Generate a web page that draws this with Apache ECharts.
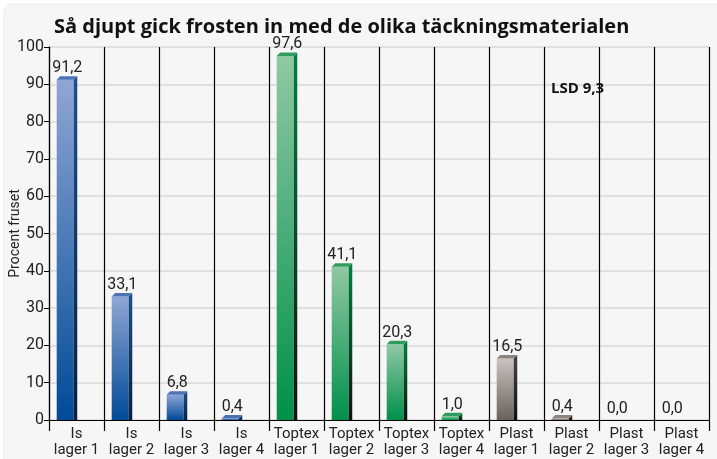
<!DOCTYPE html>
<html>
<head>
<meta charset="utf-8">
<script src="https://cdn.jsdelivr.net/npm/echarts@6/dist/echarts.min.js"></script>
<style>
  html, body { margin: 0; padding: 0; background: #fff; }
  #chart { width: 717px; height: 459px; }
</style>
</head>
<body>
<div id="chart"></div>
<script>
// kategorier och värden (procent fruset)
const categories = [
  'Is\nlager 1', 'Is\nlager 2', 'Is\nlager 3', 'Is\nlager 4',
  'Toptex\nlager 1', 'Toptex\nlager 2', 'Toptex\nlager 3', 'Toptex\nlager 4',
  'Plast\nlager 1', 'Plast\nlager 2', 'Plast\nlager 3', 'Plast\nlager 4'
]
const isValues = [91.2, 33.1, 6.8, 0.4]
const toptexValues = [97.6, 41.1, 20.3, 1.0]
const plastValues = [16.5, 0.4, 0.0, 0.0]
const groupOf = ['is', 'is', 'is', 'is', 'toptex', 'toptex', 'toptex', 'toptex', 'plast', 'plast', 'plast', 'plast']

const narrow = "Roboto, 'Liberation Sans Narrow', sans-serif"

// färger för framsida, sida och topp
const palette = {
  is: { front: ['#8fa6d4', '#004a98'], side: ['#1d4f8c', '#0a1f3f'], top: '#4a72b4' },
  toptex: { front: ['#90c8a4', '#00904a'], side: ['#00813f', '#111111'], top: '#2f9c5d' },
  plast: { front: ['#cbc3bf', '#6a605c'], side: ['#4a4340', '#111111'], top: '#8d8480' }
}

const allValues = isValues.concat(toptexValues, plastValues)
const seriesData = allValues.map((v, i) => [i, v])

const vgrad = (c) => new echarts.graphic.LinearGradient(0, 0, 0, 1, [
  { offset: 0, color: c[0] }, { offset: 1, color: c[1] }
])

const renderBar = (params, api) => {
  const idx = api.value(0)
  const v = api.value(1)
  const base = api.coord([idx, 0])
  const top = api.coord([idx, v])
  const cw = api.size([1, 0])[0]
  const x0 = base[0] - cw * 0.36
  const w = cw * 0.31
  const d = 3.5
  const dy = 3.5
  const pal = palette[groupOf[idx]]
  const label = v.toFixed(1).replace('.', ',')
  const children = []
  if (v > 0) {
    children.push({
      type: 'rect',
      shape: { x: x0, y: top[1], width: w, height: base[1] - top[1] },
      style: { fill: vgrad(pal.front) }
    })
    children.push({
      type: 'polygon',
      shape: { points: [[x0 + w, top[1]], [x0 + w + d, top[1] - dy], [x0 + w + d, base[1]], [x0 + w, base[1]]] },
      style: { fill: vgrad(pal.side) }
    })
    children.push({
      type: 'polygon',
      shape: { points: [[x0, top[1]], [x0 + d, top[1] - dy], [x0 + w + d, top[1] - dy], [x0 + w, top[1]]] },
      style: { fill: pal.top }
    })
  }
  children.push({
    type: 'text',
    style: {
      x: x0 + w / 2 + 2,
      y: top[1] - dy,
      text: label,
      fill: '#222',
      font: '16px ' + narrow,
      align: 'center',
      verticalAlign: 'bottom'
    }
  })
  return { type: 'group', children }
}

const chart = echarts.init(document.getElementById('chart'))
chart.setOption({
  backgroundColor: '#ffffff',
  animation: false,
  title: {
    text: 'Så djupt gick frosten in med de olika täckningsmaterialen',
    left: 49,
    top: 12,
    textStyle: { fontFamily: "'Open Sans', sans-serif", fontWeight: 'bold', fontSize: 20, color: '#111' }
  },
  graphic: [
    {
      type: 'rect', z: -10, silent: true,
      shape: { x: 4, y: 4, width: 720, height: 470, r: 8 },
      style: { fill: '#f6f6f6', stroke: '#ececec' }
    },
    {
      type: 'text', z: 10,
      left: 551, top: 81,
      style: { text: 'LSD 9,3', font: 'bold 15px "Open Sans", sans-serif', fill: '#111' }
    }
  ],
  grid: { left: 49, right: 8, top: 47, bottom: 39, outerBoundsMode: 'none', containLabel: false },
  xAxis: {
    type: 'category',
    data: categories,
    axisLine: { lineStyle: { color: '#000', width: 1.2 } },
    axisTick: { show: true, length: 11, lineStyle: { color: '#000', width: 1.2 } },
    splitLine: { show: true, lineStyle: { color: '#000', width: 1.2 } },
    axisLabel: { color: '#222', fontFamily: narrow, fontSize: 15, lineHeight: 16, margin: 6, interval: 0 }
  },
  yAxis: {
    type: 'value',
    min: 0,
    max: 100,
    interval: 10,
    name: 'Procent fruset',
    nameLocation: 'middle',
    nameGap: 27,
    nameMoveOverlap: false,
    nameTextStyle: { color: '#222', fontFamily: narrow, fontSize: 14 },
    axisLine: { show: true, lineStyle: { color: '#000', width: 1.2 } },
    axisTick: { show: true, length: 5, lineStyle: { color: '#000' } },
    axisLabel: { color: '#222', fontFamily: narrow, fontSize: 16, margin: 5 },
    splitLine: { lineStyle: { color: '#d9d9d9', width: 1.5 } }
  },
  series: [{
    type: 'custom',
    renderItem: renderBar,
    data: seriesData,
    encode: { x: 0, y: 1 },
    clip: false,
    z: 5
  }]
})
</script>
</body>
</html>
